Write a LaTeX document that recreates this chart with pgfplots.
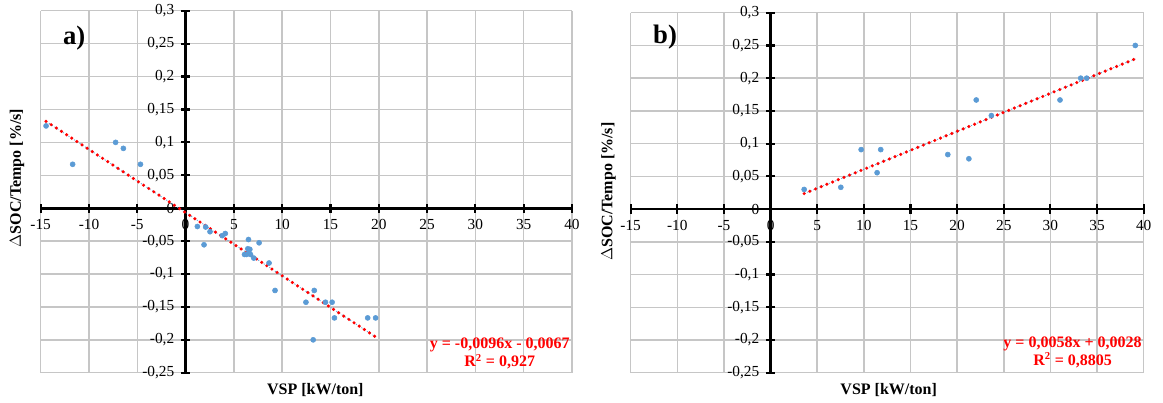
\documentclass[border=0pt]{standalone}
\usepackage{pgfplots}
\pgfplotsset{compat=1.18}
\usepackage{fontspec}
\setmainfont{Liberation Serif}
\definecolor{ptblue}{HTML}{5B9BD5}
\definecolor{gridgray}{HTML}{C6C6C6}
\definecolor{trred}{HTML}{FF0000}
\definecolor{axblack}{HTML}{000000}
\pgfplotstableread{
x y
-14.44 0.125
-11.69 0.0667
-7.24 0.1
-6.44 0.0909
-4.67 0.0667
1.22 -0.0278
1.91 -0.0556
2.08 -0.0286
2.53 -0.0357
3.80 -0.0417
4.11 -0.0385
6.51 -0.0476
7.61 -0.0526
6.44 -0.0617
6.65 -0.0625
6.10 -0.0703
6.31 -0.0703
6.55 -0.0677
6.72 -0.0703
7.06 -0.0758
8.64 -0.0833
9.26 -0.125
12.46 -0.1429
13.32 -0.125
14.48 -0.1429
15.17 -0.1429
15.41 -0.1667
13.21 -0.2
18.85 -0.1667
19.67 -0.1667
}\dataA
\pgfplotstableread{
x y
3.6 0.03
7.53 0.0333
9.71 0.0909
11.42 0.0556
11.81 0.0909
19.0 0.0833
21.26 0.0769
22.05 0.1667
23.67 0.1429
31.03 0.1667
33.25 0.2
33.89 0.2
39.1 0.25
}\dataB
% background grid, axis lines and ticks (decoration only), drawn in data units
\newcommand\backdrop{%
  \foreach \gx in {-15,-10,-5,0,5,10,15,20,25,30,35,40}
    \draw[gridgray, line width=1.1pt] (\gx,-0.25) -- (\gx,0.3);
  \foreach \gy in {-0.25,-0.2,-0.15,-0.1,-0.05,0,0.05,0.1,0.15,0.2,0.25,0.3}
    \draw[gridgray, line width=1.1pt] (-15,\gy) -- (40,\gy);
  \fill[axblack] ([yshift=-1pt]-15,0) rectangle ([yshift=1pt]40,0);
  \fill[axblack] ([xshift=-1pt]0,-0.25) rectangle ([xshift=1pt]0,0.3);
  \foreach \gx in {-15,-10,-5,5,10,15,20,25,30,35,40}
    \fill[axblack] ([xshift=-0.8pt,yshift=-3.5pt]\gx,0) rectangle ([xshift=0.8pt,yshift=3.5pt]\gx,0);
  \foreach \gy in {-0.25,-0.2,-0.15,-0.1,-0.05,0.05,0.1,0.15,0.2,0.25,0.3}
    \fill[axblack] ([xshift=-3.5pt,yshift=-0.8pt]0,\gy) rectangle ([xshift=3.5pt,yshift=0.8pt]0,\gy);
}
\newcommand\zerolabels{%
  \node[anchor=north, font=\fontsize{11.5}{13}\selectfont, yshift=-5pt] at (axis cs:0,0) {0};
  \node[anchor=east, font=\fontsize{11.5}{13}\selectfont, xshift=-5pt] at (axis cs:0,0) {0};
}
\pgfplotsset{
  myax/.style={
    scale only axis,
    clip=false,
    xmin=-15,xmax=40,ymin=-0.25,ymax=0.3,
    axis lines=middle,
    axis line style={draw=none},
    xtick={-15,-10,-5,0,5,10,15,20,25,30,35,40},
    xticklabels={-15,-10,-5,0,5,10,15,20,25,30,35,40},
    ytick={-0.25,-0.2,-0.15,-0.1,-0.05,0,0.05,0.1,0.15,0.2,0.25,0.3},
    yticklabels={{-0,25},{-0,2},{-0,15},{-0,1},{-0,05},{0},{0,05},{0,1},{0,15},{0,2},{0,25},{0,3}},
    major tick length=0pt,
    tick style={draw=none},
    grid=none,
    tick label style={font=\fontsize{11.5}{13}\selectfont},
    yticklabel style={anchor=east, xshift=-5pt},
    xticklabel style={anchor=north, yshift=-5pt},
    xlabel={VSP [kW/ton]},
    ylabel={$\Delta$SOC/Tempo [\%/s]},
    label style={font=\fontsize{12}{14}\selectfont\bfseries},
  },
  ptstyle/.style={only marks, mark=*, mark size=1.9pt, mark options={draw=ptblue, fill=ptblue}},
  trstyle/.style={trred, line width=2.6pt, line cap=round, dash pattern=on 0pt off 4.6pt},
}
\begin{document}
\begin{tikzpicture}
\useasboundingbox (0,0) rectangle (872.25pt,302.25pt);
% panel a backdrop
\begin{scope}[shift={(30.5pt,22.7pt)}, x=7.24545pt, y=493.636pt]
\begin{scope}[shift={(15,0.25)}]
\backdrop
\end{scope}
\end{scope}
% panel b backdrop
\begin{scope}[shift={(473pt,22.7pt)}, x=6.99545pt, y=490.909pt]
\begin{scope}[shift={(15,0.25)}]
\backdrop
\end{scope}
\end{scope}
\begin{axis}[myax, at={(30.5pt,22.7pt)}, anchor=south west, width=398.5pt, height=271.5pt,
  xlabel style={at={(axis description cs:0.517,-0.048)}, anchor=center},
  ylabel style={at={(axis description cs:-0.0446,0.538)}, anchor=center, rotate=90}]
\zerolabels
\addplot[ptstyle] table[x=x,y=y] {\dataA};
\addplot[ptblue, line width=0.5pt, dash pattern=on 1pt off 1.5pt, forget plot] coordinates {(-14.44,0.13193) (19.67,-0.19553)};
\addplot[trstyle] coordinates {(-14.44,0.13193) (19.67,-0.19553)};
\node[anchor=center, font=\fontsize{20}{23}\selectfont\bfseries] at (rel axis cs:0.063,0.925) {a)};
\node[anchor=east, align=center, text=trred, font=\fontsize{12}{13.5}\selectfont\bfseries, inner sep=0pt] at (rel axis cs:0.996,0.052) {y = -0,0096x - 0,0067\\R\textsuperscript{2} = 0,927};
\end{axis}
\begin{axis}[myax, at={(473pt,22.7pt)}, anchor=south west, width=384.75pt, height=270pt,
  xlabel style={at={(axis description cs:0.503,-0.048)}, anchor=center},
  ylabel style={at={(axis description cs:-0.0433,0.503)}, anchor=center, rotate=90}]
\zerolabels
\addplot[ptstyle] table[x=x,y=y] {\dataB};
\addplot[ptblue, line width=0.5pt, dash pattern=on 1pt off 1.5pt, forget plot] coordinates {(3.6,0.02368) (39.1,0.22958)};
\addplot[trstyle] coordinates {(3.6,0.02368) (39.1,0.22958)};
\node[anchor=center, font=\fontsize{20}{23}\selectfont\bfseries] at (rel axis cs:0.067,0.933) {b)};
\node[anchor=east, align=center, text=trred, font=\fontsize{12}{13.5}\selectfont\bfseries, inner sep=0pt] at (rel axis cs:0.9967,0.056) {y = 0,0058x + 0,0028\\R\textsuperscript{2} = 0,8805};
\end{axis}
\end{tikzpicture}
\end{document}
